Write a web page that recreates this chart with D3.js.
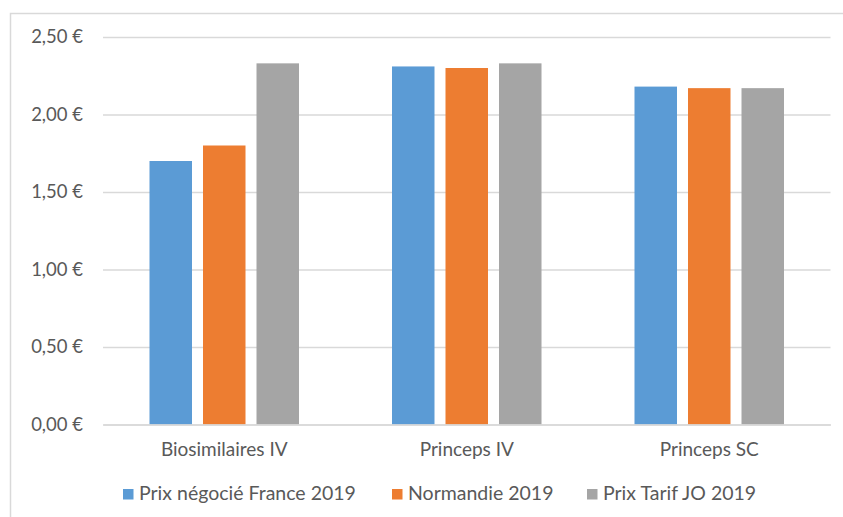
<!DOCTYPE html>
<html>
<head>
<meta charset="utf-8">
<script src="https://cdn.jsdelivr.net/npm/d3@7"></script>
<style>
  body { margin: 0; background: #fff; }
  text { font-family: Lato, "Open Sans", sans-serif; fill: #595959; }
</style>
</head>
<body>
<div id="chart"></div>
<script>
const categories = ["Biosimilaires IV", "Princeps IV", "Princeps SC"];
const seriesNames = ["Prix négocié France 2019", "Normandie 2019", "Prix Tarif JO 2019"];
const prixFrance = [1.70, 2.31, 2.18];
const normandie = [1.80, 2.30, 2.17];
const tarifJO = [2.33, 2.33, 2.17];
const yTicks = [0, 0.5, 1, 1.5, 2, 2.5];

const colors = ["#5B9BD5", "#ED7D31", "#A5A5A5"];
const seriesValues = [prixFrance, normandie, tarifJO];

const width = 843, height = 517;
const margin = { top: 37, right: 12.5, bottom: 92.5, left: 103 };

const svg = d3.select("#chart")
  .append("svg")
  .attr("width", width)
  .attr("height", height);

// outer chart border
svg.append("rect")
  .attr("x", 10.5)
  .attr("y", 13.5)
  .attr("width", 900)
  .attr("height", 600)
  .attr("fill", "none")
  .attr("stroke", "#D9D9D9")
  .attr("stroke-width", 1.5);

const x0 = d3.scaleBand()
  .domain(categories)
  .range([margin.left, width - margin.right])
  .padding(0);

const x1 = d3.scaleBand()
  .domain(seriesNames)
  .range([0, x0.bandwidth()])
  .paddingInner(0.2056)
  .paddingOuter(0.869);

const y = d3.scaleLinear()
  .domain([0, 2.5])
  .range([height - margin.bottom, margin.top]);

const fmt = d => d.toFixed(2).replace(".", ",") + " €";

// grid lines + y labels
const yAxis = svg.append("g")
  .attr("transform", `translate(${margin.left},0)`)
  .call(d3.axisLeft(y).tickValues(yTicks)
    .tickSize(-(width - margin.left - margin.right))
    .tickFormat(fmt)
    .tickPadding(20));
yAxis.select(".domain").remove();
yAxis.selectAll(".tick line").attr("stroke", "#D9D9D9").attr("stroke-width", 1.5);
yAxis.selectAll(".tick text")
  .attr("font-size", "18.5px")
  .style("font-family", "Lato, 'Open Sans', sans-serif")
  .attr("fill", "#595959");

// bars
const rows = categories.map((c, i) => ({ cat: c, vals: seriesNames.map((s, j) => ({ s, j, v: seriesValues[j][i] })) }));

svg.append("g")
  .selectAll("g")
  .data(rows)
  .join("g")
  .attr("transform", d => `translate(${x0(d.cat)},0)`)
  .selectAll("rect")
  .data(d => d.vals)
  .join("rect")
  .attr("x", d => x1(d.s))
  .attr("y", d => y(d.v))
  .attr("width", x1.bandwidth())
  .attr("height", d => y(0) - y(d.v))
  .attr("fill", d => colors[d.j]);

// x axis
const xAxis = svg.append("g")
  .attr("transform", `translate(0,${y(0)})`)
  .call(d3.axisBottom(x0).tickSize(0).tickPadding(18));
xAxis.select(".domain").attr("stroke", "#D9D9D9").attr("stroke-width", 1.5);
xAxis.selectAll(".tick text")
  .attr("font-size", "19px")
  .style("font-family", "Lato, 'Open Sans', sans-serif")
  .attr("fill", "#595959");

// legend
const legendX = [123, 392, 587];
const legend = svg.append("g")
  .selectAll("g")
  .data(seriesNames)
  .join("g")
  .attr("transform", (d, i) => `translate(${legendX[i]},489)`);

legend.append("rect")
  .attr("width", 10.5)
  .attr("height", 10.5)
  .attr("fill", (d, i) => colors[i]);

legend.append("text")
  .attr("x", 16)
  .attr("y", 11)
  .attr("font-size", "19.5px")
  .text(d => d);
</script>
</body>
</html>
